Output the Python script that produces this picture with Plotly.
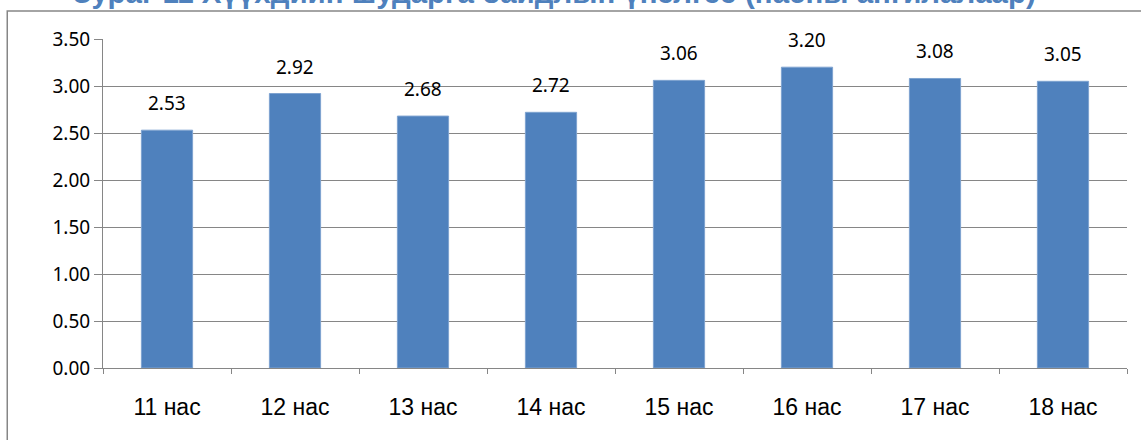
import plotly.graph_objects as go

categories = ["11 нас", "12 нас", "13 нас", "14 нас", "15 нас", "16 нас", "17 нас", "18 нас"]
values = [2.53, 2.92, 2.68, 2.72, 3.06, 3.20, 3.08, 3.05]
y_ticks = [0, 0.5, 1.0, 1.5, 2.0, 2.5, 3.0, 3.5]
title = "Зураг 11 Хүүхдийн шударга байдлын үнэлгээ (насны ангилалаар)"

fig = go.Figure()
fig.add_bar(
    x=categories,
    y=values,
    marker_color="#4F81BD",
    marker_line_color="#7EA3D0",
    marker_line_width=1,
)

# value labels above the bars
for c, v in zip(categories, values):
    fig.add_annotation(
        x=c, y=v, text=f"{v:.2f}", showarrow=False,
        yanchor="bottom", yshift=12,
        font=dict(family="Noto Sans", size=19, color="black"),
    )

# title, sitting above the frame (partly cut by the page top like the original)
fig.add_annotation(
    xref="paper", yref="paper", x=0.441, y=1.086,
    text=f"<b>{title}</b>", showarrow=False,
    xanchor="center", yanchor="bottom",
    font=dict(family="Liberation Sans", size=29.5, color="#4F81BD"),
)

# outer frame
fig.add_shape(
    type="rect", xref="paper", yref="paper",
    x0=-0.0935, x1=1.03, y0=-0.25, y1=1.085,
    line=dict(color="#868686", width=1.5),
)

fig.update_layout(
    width=1141, height=440,
    margin=dict(l=103, r=14, t=39, b=72),
    plot_bgcolor="white", paper_bgcolor="white",
    showlegend=False,
    bargap=0.6,
)
fig.update_yaxes(
    range=[0, 3.5],
    tickvals=y_ticks,
    tickformat=".2f",
    showgrid=True, gridcolor="#868686", gridwidth=1,
    showline=True, linecolor="#868686", linewidth=1,
    ticks="outside", ticklen=8, tickcolor="#868686",
    tickfont=dict(family="Noto Sans", size=19, color="black"),
    zeroline=False,
)
fig.update_xaxes(
    showline=True, linecolor="#868686", linewidth=1,
    ticks="outside", ticklen=5, tickcolor="#868686",
    tickson="boundaries",
    tickfont=dict(family="Liberation Sans", size=23, color="black"),
    ticklabelstandoff=18,
)

fig.write_html(
    "out.html",
    config={"displayModeBar": False},
    post_script="document.body.style.margin='0';",
)
